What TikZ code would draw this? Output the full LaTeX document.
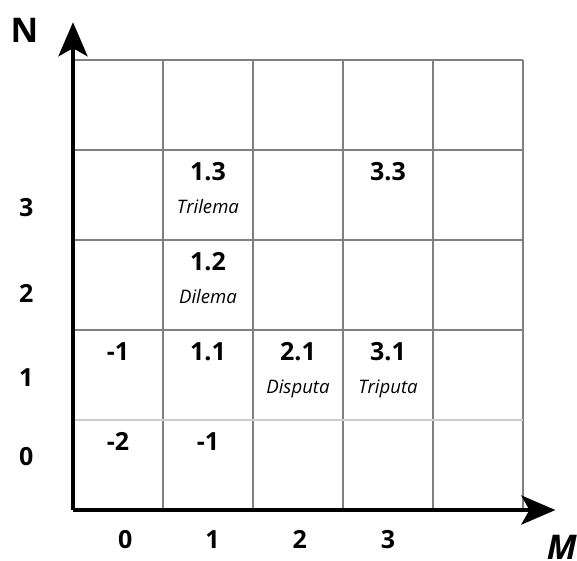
\documentclass[tikz,border=0pt]{standalone}
\usepackage{fontspec}
\setmainfont{Open Sans}
\usetikzlibrary{arrows.meta}

\begin{document}
\begin{tikzpicture}[x=45pt,y=45pt,
  num/.style={font=\fontsize{12.5}{15}\selectfont\bfseries, anchor=base, inner sep=0pt},
  word/.style={font=\fontsize{9.3}{11}\selectfont\itshape, anchor=base, inner sep=0pt},
  ticklabel/.style={font=\fontsize{12.5}{15}\selectfont\bfseries, inner sep=0pt},
  gridline/.style={draw=gray, line width=0.9pt},
  axis/.style={line width=2pt, -{Stealth[length=17pt,width=14.5pt,inset=4pt]}}]
\useasboundingbox (-0.811,-0.556) rectangle (5.6,5.667);
% the grid
\draw[gridline, step=45pt] (0,0) grid (5,5);
\draw[gridline, draw=gray!40] (0,1) -- (5,1);
% axes
\coordinate (O) at (0,0);
\coordinate (ytip) at (0,5.42);
\coordinate (xtip) at (5.36,0);
\draw[axis] (O) -- (ytip);
\draw[axis] (O) -- (xtip);
\node[font=\fontsize{17}{20}\selectfont\bfseries, inner sep=0pt] (N) at (-0.54,5.33) {N};
\node[font=\fontsize{17}{20}\selectfont\bfseries\itshape, anchor=north west, inner sep=0pt] (M) at (5.26,-0.28) {M};
% row and column numbers
\node[ticklabel] (r3) at (-0.52,3.36) {3};
\node[ticklabel] (r2) at (-0.52,2.41) {2};
\node[ticklabel] (r1) at (-0.52,1.47) {1};
\node[ticklabel] (r0) at (-0.52,0.59) {0};
\node[ticklabel] (k0) at (0.58,-0.33) {0};
\node[ticklabel] (k1) at (1.55,-0.33) {1};
\node[ticklabel] (k2) at (2.52,-0.33) {2};
\node[ticklabel] (k3) at (3.5,-0.33) {3};
% cells
\node[num] (c13) at (1.5,3.66) {1.3};
\node[word] (w13) at (1.5,3.29) {Trilema};
\node[num] (c33) at (3.5,3.66) {3.3};
\node[num] (c12) at (1.5,2.66) {1.2};
\node[word] (w12) at (1.5,2.29) {Dilema};
\node[num] (c01) at (0.5,1.66) {-1};
\node[num] (c11) at (1.5,1.66) {1.1};
\node[num] (c21) at (2.5,1.66) {2.1};
\node[word] (w21) at (2.5,1.29) {Disputa};
\node[num] (c31) at (3.5,1.66) {3.1};
\node[word] (w31) at (3.5,1.29) {Triputa};
\node[num] (c00) at (0.5,0.66) {-2};
\node[num] (c10) at (1.5,0.66) {-1};
\end{tikzpicture}
\end{document}
